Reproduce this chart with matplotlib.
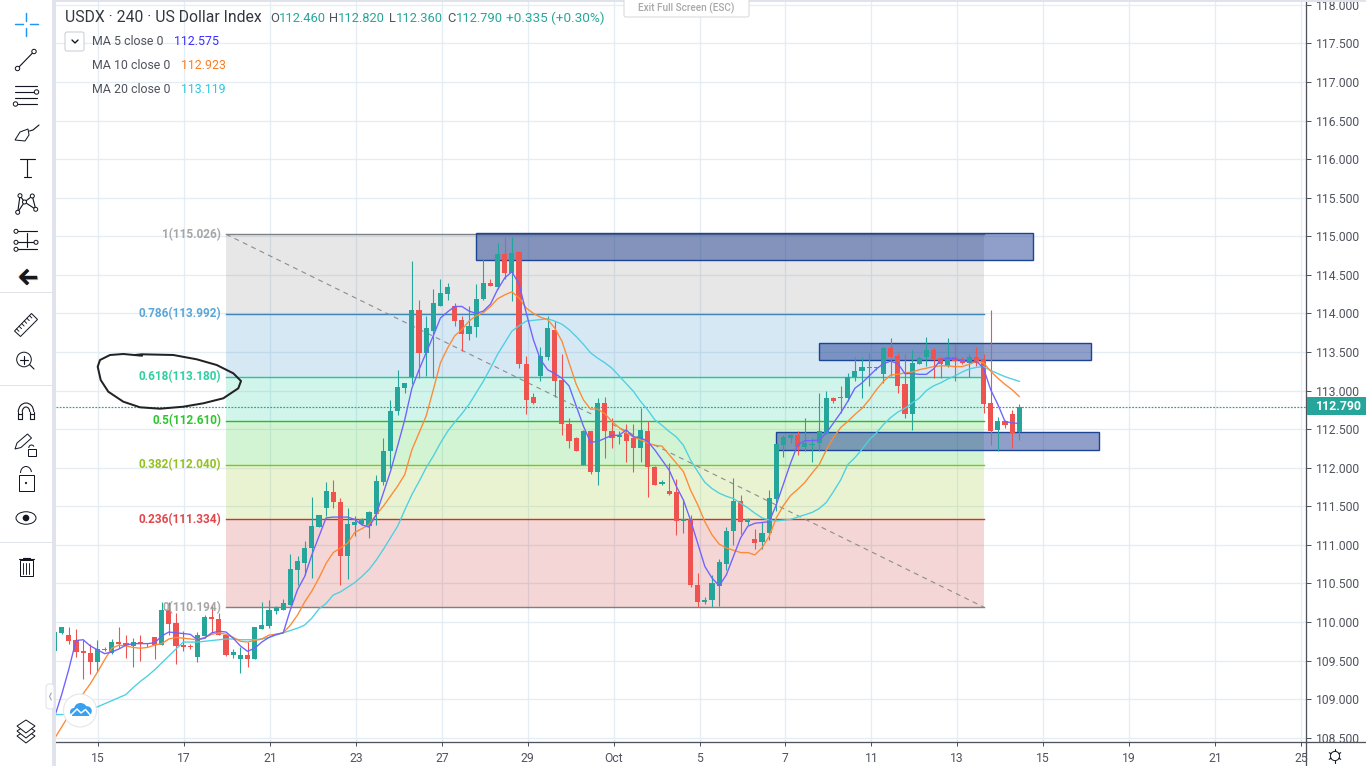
import matplotlib
matplotlib.use('Agg')
import matplotlib.pyplot as plt
from matplotlib.patches import Circle, Ellipse, FancyBboxPatch, Polygon, Rectangle, Arc
import numpy as np

plt.rcParams['font.family'] = ['Roboto', 'DejaVu Sans']

opens = [109.63, 109.86, 109.83, 109.77, 109.62, 109.60, 109.48, 109.65, 109.60, 109.74,
         109.73, 109.69, 109.74, 109.72, 109.81, 109.70, 110.16, 109.99, 109.70, 109.68,
         109.55, 109.82, 110.06, 110.04, 109.83, 109.57, 109.52, 109.57, 109.52, 109.91,
         109.95, 110.14, 110.16, 110.22, 110.68, 110.77, 110.96, 111.23, 111.48, 111.69,
         111.56, 110.86, 111.26, 111.27, 111.25, 111.40, 111.82, 112.21, 112.73, 113.03,
         113.17, 114.05, 113.49, 113.77, 114.10, 114.25, 114.09, 113.92, 113.73, 113.83,
         114.19, 114.40, 114.34, 114.77, 114.52, 114.79, 113.35, 112.91, 113.19, 113.44,
         113.78, 113.14, 112.57, 112.38, 112.03, 112.47, 111.94, 112.84, 112.48, 112.40,
         112.45, 112.38, 112.26, 112.48, 112.01, 111.79, 111.70, 111.69, 111.31, 111.34,
         110.48, 110.26, 110.29, 110.47, 110.75, 111.18, 111.57, 111.29, 111.08, 111.04,
         111.16, 111.60, 112.30, 112.39, 112.42, 112.27, 112.29, 112.32, 112.45, 112.90,
         112.92, 112.90, 113.17, 113.25, 113.29, 113.29, 113.21, 113.55, 113.45, 113.08,
         112.69, 113.35, 113.44, 113.53, 113.42, 113.32, 113.43, 113.39, 113.36, 113.43,
         113.39, 112.84, 112.49, 112.60, 112.70, 112.46]
highs = [109.87, 109.94, 109.94, 109.91, 109.77, 109.71, 109.77, 109.67, 109.78, 109.94,
         109.83, 109.79, 109.83, 109.73, 109.81, 110.26, 110.26, 110.12, 109.88, 109.71,
         109.87, 110.09, 110.22, 110.12, 109.83, 109.65, 109.68, 109.74, 109.94, 110.26,
         110.29, 110.21, 110.30, 110.88, 110.85, 111.05, 111.62, 111.39, 111.81, 111.84,
         111.61, 111.48, 111.38, 111.35, 111.44, 111.91, 112.38, 112.88, 113.26, 113.10,
         114.68, 114.17, 113.97, 114.31, 114.44, 114.39, 114.14, 113.96, 114.10, 114.38,
         114.70, 114.44, 114.91, 114.99, 114.99, 114.81, 113.45, 112.97, 113.56, 113.97,
         113.90, 113.48, 112.65, 112.40, 112.49, 112.48, 112.90, 112.91, 112.64, 112.48,
         112.56, 112.57, 112.77, 112.60, 112.02, 111.84, 112.06, 111.86, 111.60, 111.39,
         110.64, 110.32, 110.61, 110.82, 111.23, 111.87, 111.64, 111.35, 111.21, 111.30,
         111.71, 112.31, 112.43, 112.44, 112.47, 112.64, 112.38, 112.97, 113.00, 112.92,
         113.06, 113.23, 113.44, 113.43, 113.49, 113.31, 113.56, 113.68, 113.49, 113.48,
         113.53, 113.45, 113.70, 113.55, 113.44, 113.68, 113.60, 113.43, 113.48, 113.56,
         113.47, 114.05, 112.66, 112.62, 112.75, 112.82]
lows = [109.63, 109.84, 109.71, 109.54, 109.26, 109.32, 109.35, 109.62, 109.58, 109.66,
        109.53, 109.42, 109.49, 109.67, 109.52, 109.70, 109.83, 109.45, 109.62, 109.65,
        109.48, 109.79, 109.86, 109.83, 109.56, 109.53, 109.34, 109.42, 109.52, 109.91,
        109.92, 110.10, 110.16, 110.22, 110.48, 110.61, 110.57, 111.23, 111.38, 111.48,
        110.48, 110.56, 111.12, 111.26, 111.09, 111.26, 111.77, 111.99, 112.68, 112.97,
        113.09, 113.16, 113.19, 113.16, 114.09, 114.18, 113.84, 113.51, 113.66, 113.70,
        114.18, 114.35, 114.32, 114.45, 114.16, 113.29, 112.69, 112.83, 113.13, 113.39,
        112.92, 112.42, 112.25, 112.21, 112.03, 111.92, 111.77, 112.13, 112.25, 112.31,
        112.08, 111.95, 112.08, 111.62, 111.77, 111.77, 111.64, 111.13, 111.16, 110.45,
        110.20, 110.23, 110.19, 110.21, 110.68, 111.00, 111.14, 111.26, 110.94, 110.94,
        111.06, 111.44, 112.14, 112.32, 112.17, 112.21, 112.08, 112.21, 112.44, 112.84,
        112.71, 112.86, 113.12, 112.90, 113.06, 113.27, 113.10, 113.19, 112.97, 112.64,
        112.49, 113.34, 113.32, 113.16, 113.16, 113.30, 113.12, 113.35, 113.18, 113.32,
        112.71, 112.30, 112.21, 112.52, 112.25, 112.36]
closes = [109.87, 109.94, 109.75, 109.61, 109.60, 109.48, 109.65, 109.64, 109.74, 109.71,
          109.70, 109.74, 109.72, 109.71, 109.70, 110.16, 109.98, 109.69, 109.67, 109.67,
          109.83, 110.06, 110.04, 109.83, 109.57, 109.61, 109.57, 109.52, 109.94, 109.96,
          110.16, 110.19, 110.25, 110.69, 110.79, 110.96, 111.25, 111.39, 111.70, 111.55,
          110.86, 111.27, 111.29, 111.34, 111.42, 111.83, 112.22, 112.74, 113.04, 113.10,
          114.04, 113.49, 113.81, 114.13, 114.27, 114.34, 113.90, 113.73, 113.84, 114.19,
          114.40, 114.36, 114.77, 114.53, 114.78, 113.35, 112.88, 112.84, 113.45, 113.81,
          113.13, 112.56, 112.35, 112.21, 112.47, 111.94, 112.84, 112.48, 112.39, 112.42,
          112.35, 112.26, 112.49, 112.01, 111.78, 111.81, 111.66, 111.31, 111.33, 110.48,
          110.26, 110.28, 110.51, 110.78, 111.18, 111.57, 111.29, 111.34, 111.03, 111.16,
          111.61, 112.31, 112.40, 112.42, 112.27, 112.32, 112.30, 112.47, 112.90, 112.87,
          112.90, 113.17, 113.25, 113.30, 113.30, 113.31, 113.55, 113.44, 113.06, 112.69,
          113.36, 113.42, 113.53, 113.40, 113.34, 113.44, 113.38, 113.36, 113.43, 113.36,
          112.83, 112.48, 112.61, 112.55, 112.45, 112.79]

ma5 = [108.77, 109.06, 109.39, 109.76, 109.77, 109.69, 109.64, 109.59, 109.61, 109.65,
       109.70, 109.72, 109.72, 109.72, 109.73, 109.82, 109.87, 109.86, 109.85, 109.84,
       109.77, 109.79, 109.86, 109.88, 109.87, 109.79, 109.69, 109.62, 109.66, 109.74,
       109.80, 109.84, 109.86, 110.16, 110.42, 110.59, 110.87, 111.11, 111.35, 111.36,
       111.36, 111.36, 111.33, 111.26, 111.23, 111.39, 111.67, 111.95, 112.28, 112.62,
       113.03, 113.27, 113.49, 113.71, 113.94, 114.02, 114.09, 114.09, 114.03, 114.00,
       114.03, 114.12, 114.31, 114.46, 114.54, 114.38, 114.01, 113.66, 113.40, 113.27,
       113.22, 113.16, 113.06, 112.80, 112.54, 112.33, 112.34, 112.38, 112.42, 112.42,
       112.49, 112.40, 112.39, 112.34, 112.23, 112.10, 111.97, 111.76, 111.58, 111.32,
       111.02, 110.72, 110.57, 110.47, 110.61, 110.85, 111.09, 111.24, 111.28, 111.29,
       111.30, 111.52, 111.79, 112.06, 112.30, 112.35, 112.35, 112.36, 112.45, 112.58,
       112.71, 112.86, 113.03, 113.10, 113.19, 113.28, 113.35, 113.38, 113.35, 113.22,
       113.22, 113.21, 113.21, 113.28, 113.40, 113.42, 113.41, 113.39, 113.37, 113.38,
       113.29, 113.01, 112.82, 112.60, 112.58, 112.575]
ma10 = [108.49, 108.64, 108.79, 108.94, 109.07, 109.20, 109.35, 109.51, 109.66, 109.70,
        109.69, 109.67, 109.66, 109.67, 109.70, 109.72, 109.78, 109.80, 109.79, 109.78,
        109.77, 109.80, 109.84, 109.86, 109.84, 109.80, 109.75, 109.74, 109.76, 109.78,
        109.83, 109.84, 109.86, 109.96, 110.09, 110.26, 110.40, 110.57, 110.76, 110.90,
        110.96, 111.02, 111.16, 111.21, 111.26, 111.39, 111.50, 111.63, 111.76, 111.91,
        112.23, 112.45, 112.67, 113.01, 113.36, 113.55, 113.71, 113.79, 113.90, 113.97,
        114.01, 114.09, 114.19, 114.24, 114.28, 114.20, 114.07, 114.00, 113.95, 113.92,
        113.81, 113.64, 113.36, 113.08, 112.88, 112.76, 112.76, 112.70, 112.60, 112.52,
        112.45, 112.40, 112.36, 112.32, 112.29, 112.28, 112.17, 112.06, 111.95, 111.71,
        111.52, 111.30, 111.13, 111.01, 110.96, 110.93, 110.90, 110.90, 110.87, 110.96,
        111.11, 111.35, 111.51, 111.64, 111.72, 111.81, 111.93, 112.04, 112.23, 112.39,
        112.52, 112.60, 112.69, 112.77, 112.88, 113.01, 113.12, 113.20, 113.21, 113.23,
        113.24, 113.27, 113.29, 113.31, 113.32, 113.32, 113.31, 113.31, 113.34, 113.38,
        113.36, 113.25, 113.16, 113.08, 113.01, 112.923]
ma20 = [108.80, 108.80, 108.81, 108.83, 108.85, 108.87, 108.90, 108.94, 108.98, 109.02,
        109.06, 109.15, 109.23, 109.30, 109.38, 109.47, 109.56, 109.65, 109.74, 109.74,
        109.74, 109.75, 109.76, 109.77, 109.78, 109.78, 109.77, 109.77, 109.77, 109.78,
        109.80, 109.83, 109.86, 109.89, 109.92, 109.96, 110.05, 110.17, 110.24, 110.35,
        110.39, 110.45, 110.51, 110.59, 110.68, 110.80, 110.94, 111.09, 111.24, 111.45,
        111.65, 111.82, 112.00, 112.15, 112.32, 112.47, 112.59, 112.70, 112.82, 112.97,
        113.12, 113.29, 113.47, 113.62, 113.77, 113.84, 113.90, 113.91, 113.92, 113.93,
        113.90, 113.86, 113.79, 113.70, 113.60, 113.49, 113.42, 113.36, 113.29, 113.19,
        113.09, 112.99, 112.86, 112.75, 112.62, 112.55, 112.47, 112.40, 112.29, 112.10,
        111.95, 111.81, 111.73, 111.67, 111.63, 111.60, 111.54, 111.48, 111.41, 111.35,
        111.32, 111.31, 111.32, 111.33, 111.36, 111.39, 111.42, 111.47, 111.55, 111.69,
        111.84, 112.04, 112.13, 112.24, 112.36, 112.45, 112.56, 112.65, 112.72, 112.77,
        112.84, 112.90, 113.00, 113.06, 113.10, 113.15, 113.19, 113.24, 113.28, 113.30,
        113.31, 113.26, 113.22, 113.18, 113.15, 113.119]

# fib retracement: ratio, price, line colour, fill colour, label colour
fib_ratios = ['1', '0.786', '0.618', '0.5', '0.382', '0.236', '0']
fib_prices = [115.026, 113.992, 113.180, 112.610, 112.040, 111.334, 110.194]
fib_lines = ['#808080', '#3d85b5', '#1fc99a', '#22c022', '#7cc71a', '#c0392b', '#808080']
fib_fills = ['#808080', '#2a8ac4', '#14cc99', '#18c818', '#8bc412', '#c62828']
fib_text = ['#a6a6a6', '#5aa6d8', '#2fd0a0', '#2fc52f', '#94c11f', '#e0464a', '#a6a6a6']
fib_start = 24
fib_end = 130

# supply / demand boxes: first bar, last bar, low, high
box_start = [59, 107, 101]
box_end = [136.9, 145.0, 146.2]
box_low = [114.69, 113.39, 112.23]
box_high = [115.04, 113.61, 112.46]

price_ticks = [108.5 + 0.5 * k for k in range(20)]
date_labels = ['15', '17', '21', '23', '27', '29', 'Oct', '5', '7', '11', '13', '15', '19', '21', '25']

GREEN = '#26a69a'
RED = '#ef5350'
TEXT = '#50535e'
GRID = '#e3edf3'
ICON = '#131722'

W, H = 1366, 766
px = 0.72  # one pixel in points at dpi 100


def draw_chart(fig):
    ax = fig.add_axes([56 / W, 1 - 741.5 / H, 1250 / W, 741.5 / H])
    n = len(closes)
    bars = np.arange(n)
    step = 7.146
    scale = 77.15
    ax.set_xlim((56 - 54.56) / step, (1306 - 54.56) / step)
    ax.set_ylim(110 - 119.5 / scale, 110 + 622 / scale)

    date_ticks = [6.12 + 12.02 * k for k in range(len(date_labels))]
    ax.set_xticks(date_ticks)
    ax.set_xticklabels(date_labels)
    ax.set_yticks(price_ticks)
    ax.set_yticklabels(['%.3f' % p for p in price_ticks])
    ax.yaxis.tick_right()
    ax.tick_params(axis='y', length=3.6, width=px, color=TEXT, labelcolor=TEXT, labelsize=8.7, pad=3.2)
    ax.tick_params(axis='x', length=3.2, width=px, color=TEXT, labelcolor=TEXT, labelsize=8.7, pad=4.4)
    ax.grid(True, color=GRID, lw=1.3 * px, zorder=0)
    ax.set_axisbelow(True)
    for side in ['left', 'top']:
        ax.spines[side].set_visible(False)
    for side in ['right', 'bottom']:
        ax.spines[side].set_color(TEXT)
        ax.spines[side].set_linewidth(1.3 * px)

    # fib bands and levels
    for k in range(len(fib_fills)):
        ax.fill_between([fib_start, fib_end], fib_prices[k + 1], fib_prices[k],
                        color=fib_fills[k], alpha=0.19, lw=0, zorder=1)
    for k in range(len(fib_prices)):
        ax.plot([fib_start, fib_end], [fib_prices[k], fib_prices[k]], color=fib_lines[k],
                lw=1.4 * px, zorder=1.5)
        ax.text(23.3, fib_prices[k], '%s(%.3f)' % (fib_ratios[k], fib_prices[k]), color=fib_text[k],
                ha='right', va='center', fontsize=8.5, fontweight='bold', zorder=6)
    ax.plot([fib_start, fib_end], [fib_prices[0], fib_prices[-1]], color='#8c8c8c', lw=1.1 * px,
            dashes=(4.5, 4), zorder=1.5)

    for k in range(len(box_start)):
        ax.add_patch(Rectangle((box_start[k], box_low[k]), box_end[k] - box_start[k],
                               box_high[k] - box_low[k], facecolor=(0.09, 0.22, 0.56, 0.48),
                               edgecolor='#1c4596', lw=1.4 * px, zorder=2))

    # candles
    up = np.array(closes) >= np.array(opens)
    colors = [GREEN if u else RED for u in up]
    ax.vlines(bars, lows, highs, colors=colors, lw=1.1 * px, zorder=3)
    body = np.abs(np.array(closes) - np.array(opens))
    body = np.maximum(body, 0.015)
    bottom = np.minimum(opens, closes)
    ax.bar(bars, body, 0.72, bottom=bottom, color=colors, lw=0, zorder=3.2)

    ax.plot(bars, ma20, color='#4dd0e1', lw=1.35 * px, zorder=4)
    ax.plot(bars, ma10, color='#ff8a35', lw=1.35 * px, zorder=4.1)
    ax.plot(bars, ma5, color='#6f62ff', lw=1.35 * px, zorder=4.2)

    ax.axhline(closes[-1], color=GREEN, lw=1.2 * px, dashes=(1.5, 1.2), zorder=3)
    return ax


def line(ov, xs, ys, color=ICON, lw=1.0, **kw):
    ov.plot(xs, ys, color=color, lw=lw * px * 1.15, solid_capstyle='round', **kw)


def dot(ov, x, y, r=2.2, color=ICON):
    ov.add_patch(Circle((x, y), r, fc='white', ec=color, lw=1.0 * px, zorder=12))


def draw_toolbar(ov):
    ov.add_patch(Rectangle((0, 0), 52, H, fc='white', ec='none', zorder=8))
    ov.add_patch(Rectangle((52, 0), 4, H, fc='#e0e3eb', ec='none', zorder=8))
    ov.add_patch(Rectangle((56, 0), W - 56, 1.5, fc='#e0e3eb', ec='none', zorder=8))
    for y in [291.5, 385, 541.5]:
        ov.add_patch(Rectangle((0, y), 52, 1, fc='#e0e3eb', ec='none', zorder=9))

    # crosshair
    for a, b in [(15, 22.7), (30, 37.7)]:
        line(ov, [a, b], [24, 24], color='#2196f3', lw=1.3, zorder=10)
    for a, b in [(13.3, 20.7), (28.3, 35.7)]:
        line(ov, [26, 26], [a, b], color='#2196f3', lw=1.3, zorder=10)
    # trend line
    line(ov, [17.5, 34], [68.5, 51.5], zorder=10)
    dot(ov, 17.5, 68.5)
    dot(ov, 34, 51.5)
    # channel
    for y, x0 in [(86, 15), (92, 15), (98, 15), (104, 18)]:
        line(ov, [x0, 37], [y, y], zorder=10)
    dot(ov, 36.5, 92)
    dot(ov, 15.5, 104)
    # brush
    ov.add_patch(Polygon([(15, 140), (20, 132), (28, 129), (29, 135), (25, 141)], closed=True, fc='white',
                         ec=ICON, lw=1.0 * px, zorder=10))
    line(ov, [29.5, 33, 39], [131, 130, 125], zorder=10)
    # text tool
    line(ov, [20, 34.5], [159, 159], zorder=10)
    line(ov, [27.3, 27.3], [159, 176.5], zorder=10)
    line(ov, [24, 30.5], [176.5, 176.5], zorder=10)
    # nodes
    nx = [17.7, 20, 24.5, 32.3, 35.7]
    ny = [212.3, 195.7, 202, 196, 209.3]
    line(ov, nx, ny, zorder=10)
    line(ov, [17.7, 24.5, 35.7], [212.3, 202, 209.3], zorder=10)
    for a, b in zip(nx, ny):
        dot(ov, a, b, r=2.0)
    # fib tool
    for y, x0 in [(231.3, 16), (242.3, 16), (249.3, 16)]:
        line(ov, [x0, 37], [y, y], zorder=10)
    for a, b in [(16, 231.3), (16, 242.3), (16, 249.3), (36, 242.3)]:
        dot(ov, a, b, r=2.0)
    line(ov, [26.7, 26.7], [233, 247], zorder=13)
    # back arrow
    ov.plot([36, 22], [277.5, 277.5], color='#f5a04a', lw=3.2 * px, zorder=10)
    ov.plot([26, 20, 26], [271.5, 277, 283], color='#f5a04a', lw=3.2 * px, zorder=10)
    ov.plot([35, 22], [277, 277], color=ICON, lw=3.4 * px, zorder=11)
    ov.plot([27, 21, 27], [271, 277, 283], color=ICON, lw=3.4 * px, zorder=11)
    # ruler
    ov.add_patch(Polygon([(14.5, 331), (31.5, 313.5), (37.5, 319.5), (20.5, 336.5)], closed=True, fc='white',
                         ec=ICON, lw=1.0 * px, zorder=10))
    for t in np.linspace(0.12, 0.88, 6):
        a = 14.5 + 17 * t
        b = 331 - 17.5 * t
        line(ov, [a, a + 2.4], [b, b + 2.4], lw=0.8, zorder=11)
    # zoom
    ov.add_patch(Circle((24, 359.5), 7.3, fc='white', ec=ICON, lw=1.0 * px, zorder=10))
    line(ov, [29.5, 34], [364.5, 369], zorder=10)
    line(ov, [20, 28], [359.5, 359.5], zorder=11)
    line(ov, [24, 24], [355.5, 363.5], zorder=11)
    # magnet
    ov.add_patch(Arc((26, 412), 15.5, 18, theta1=180, theta2=360, ec=ICON, lw=1.1 * px, zorder=10))
    ov.add_patch(Arc((26, 412), 7.5, 10, theta1=180, theta2=360, ec=ICON, lw=1.1 * px, zorder=10))
    line(ov, [18.3, 18.3, 22.2, 22.2], [412, 418.5, 418.5, 412], zorder=10)
    line(ov, [29.8, 29.8, 33.7, 33.7], [412, 418.5, 418.5, 412], zorder=10)
    line(ov, [18.3, 22.2], [414, 414], zorder=10)
    line(ov, [29.8, 33.7], [414, 414], zorder=10)
    # pencil lock
    ov.add_patch(Polygon([(15, 449), (17, 443), (27.5, 434), (31.5, 438), (21, 447.5)], closed=True, fc='white',
                         ec=ICON, lw=1.0 * px, zorder=10))
    ov.add_patch(Rectangle((27.5, 449), 8, 6.5, fc='white', ec=ICON, lw=1.0 * px, zorder=11))
    ov.add_patch(Arc((31.5, 448), 5.5, 6, theta1=180, theta2=330, ec=ICON, lw=1.0 * px, zorder=11))
    # lock
    ov.add_patch(Rectangle((18.5, 475), 15.5, 15.5, fc='white', ec=ICON, lw=1.0 * px, zorder=10))
    ov.add_patch(Arc((26, 473), 11, 13, theta1=180, theta2=350, ec=ICON, lw=1.0 * px, zorder=10))
    ov.add_patch(Circle((26, 483), 1.1, fc=ICON, ec='none', zorder=11))
    # eye
    ov.add_patch(Ellipse((26, 518), 20, 12.5, fc='white', ec=ICON, lw=1.0 * px, zorder=10))
    ov.add_patch(Circle((26, 518), 3.3, fc=ICON, ec='none', zorder=11))
    # trash
    ov.add_patch(Rectangle((19.5, 560), 13.5, 16, fc='white', ec=ICON, lw=1.0 * px, zorder=10))
    line(ov, [18.5, 33.5], [559, 559], zorder=10)
    line(ov, [23, 30], [557.5, 557.5], zorder=10)
    for a in [23.3, 26.3, 29.3]:
        line(ov, [a, a], [562.5, 574], lw=0.8, zorder=11)
    # layers
    for dy in [10, 5, 0]:
        ov.add_patch(Polygon([(17, 726 + dy), (26, 720 + dy), (35, 726 + dy), (26, 733 + dy)], closed=True,
                             fc='white', ec=ICON, lw=1.0 * px, zorder=10))
    # side collapse tab
    ov.add_patch(FancyBboxPatch((47, 685), 6, 23, boxstyle='round,pad=1,rounding_size=3', fc='white',
                                ec='#e0e3eb', lw=1.0 * px, zorder=10))
    line(ov, [51.3, 49.5, 51.3], [693, 696.5, 700], color='#9aa8bd', lw=1.0, zorder=11)


def draw_logo(ov):
    ov.add_patch(Circle((80, 710.5), 16.5, fc='white', ec='#e8e8e8', lw=1.2 * px, zorder=10))
    blue = '#38a0f0'
    ov.add_patch(Ellipse((80.5, 708.5), 12.5, 11, fc=blue, ec='none', zorder=11))
    ov.add_patch(Circle((74, 712), 4, fc=blue, ec='none', zorder=11))
    ov.add_patch(Circle((87, 711), 4.8, fc=blue, ec='none', zorder=11))
    ov.add_patch(Rectangle((72, 711), 17, 5.3, fc=blue, ec='none', zorder=11))
    ov.plot([70, 77, 81, 85.5, 91], [716, 709, 713, 709.5, 716], color='white', lw=1.5 * px, zorder=12)


def draw_header(ov):
    ov.text(65, 18, 'USDX \u00b7 240 \u00b7 US Dollar Index', color='#333740', fontsize=11.3, va='center', zorder=8)
    pieces = [(270, 'O', '112.460'), (329, 'H', '112.820'), (389, 'L', '112.360'), (447, 'C', '112.790')]
    for x, a, b in pieces:
        ov.text(x, 18.5, a, color=TEXT, fontsize=9.3, va='center', zorder=8)
        ov.text(x + (8.8 if a != 'L' else 7.2), 18.5, b, color=GREEN, fontsize=9.3, va='center', zorder=8)
    ov.text(506, 18.5, '+0.335 (+0.30%)', color=GREEN, fontsize=9.7, va='center', zorder=8)

    rows = [(41.5, 'MA 5 close 0', 174, '112.575', '#3b30ff'),
            (65.5, 'MA 10 close 0', 181, '112.923', '#ff7b1c'),
            (89.5, 'MA 20 close 0', 181, '113.119', '#27c9dd')]
    for y, name, vx, val, c in rows:
        ov.text(92, y, name, color=TEXT, fontsize=8.9, va='center', zorder=8)
        ov.text(vx, y, val, color=c, fontsize=8.9, va='center', zorder=8)
    ov.add_patch(FancyBboxPatch((65, 32), 19, 19, boxstyle='round,pad=0,rounding_size=2', fc='white',
                                ec='#c9ccd4', lw=1.0 * px, zorder=8))
    line(ov, [72, 75, 78], [40, 43, 40], lw=1.2, zorder=9)

    # full screen hint at the top
    ov.add_patch(FancyBboxPatch((624, -4), 125, 21, boxstyle='round,pad=0,rounding_size=2', fc='white',
                                ec='#d9d9d9', lw=1.0 * px, zorder=8))
    ov.text(686, 8, 'Exit Full Screen (ESC)', color='#a8a8a8', fontsize=7.2, fontweight='medium', ha='center',
            va='center', zorder=9)


def draw_overlay(fig):
    ov = fig.add_axes([0, 0, 1, 1])
    ov.set_xlim(0, W)
    ov.set_ylim(H, 0)
    ov.axis('off')
    ov.patch.set_alpha(0)

    draw_toolbar(ov)
    draw_logo(ov)
    draw_header(ov)

    # hand drawn ring round the 0.618 level
    ring_x = [141.7, 123.3, 110, 100, 97.7, 100.7, 108.3, 123.3, 140, 160, 183.3, 203.3, 223.3, 238.3, 241,
              233.3, 216.7, 196.7, 173.3, 141.7, 135]
    ring_y = [355.7, 354, 355, 360, 366.7, 380, 391.7, 401.7, 407.3, 408.7, 406.7, 403.3, 398.3, 388.3, 381,
              373.3, 365, 359.3, 355, 354.3, 355]
    ov.plot(ring_x, ring_y, color='#222222', lw=2.0 * px, zorder=7)

    # axis lines that run past the plot area
    ov.plot([1306, W], [741.5, 741.5], color=TEXT, lw=1.3 * px, zorder=7)
    ov.plot([1306.2, 1306.2], [741.5, H], color=TEXT, lw=1.3 * px, zorder=7)

    # last price flag
    ov.add_patch(Rectangle((1306.5, 397), W - 1306.5, 18, fc=GREEN, ec='none', zorder=7))
    ov.text(1316, 406, '%.3f' % closes[-1], color='white', fontsize=8.8, fontweight='bold', va='center', zorder=8)

    # settings gear
    ov.add_patch(Circle((1335, 756), 4.6, fc='white', ec=ICON, lw=1.0 * px, zorder=8))
    for a in np.arange(0, 360, 60):
        r = np.deg2rad(a + 30)
        line(ov, [1335 + 4.6 * np.cos(r), 1335 + 6.6 * np.cos(r)], [756 + 4.6 * np.sin(r), 756 + 6.6 * np.sin(r)],
             lw=1.0, zorder=8)


def main():
    fig = plt.figure(figsize=(W / 100, H / 100), dpi=100)
    draw_chart(fig)
    draw_overlay(fig)
    fig.savefig('out.png', dpi=100)


if __name__ == '__main__':
    main()
